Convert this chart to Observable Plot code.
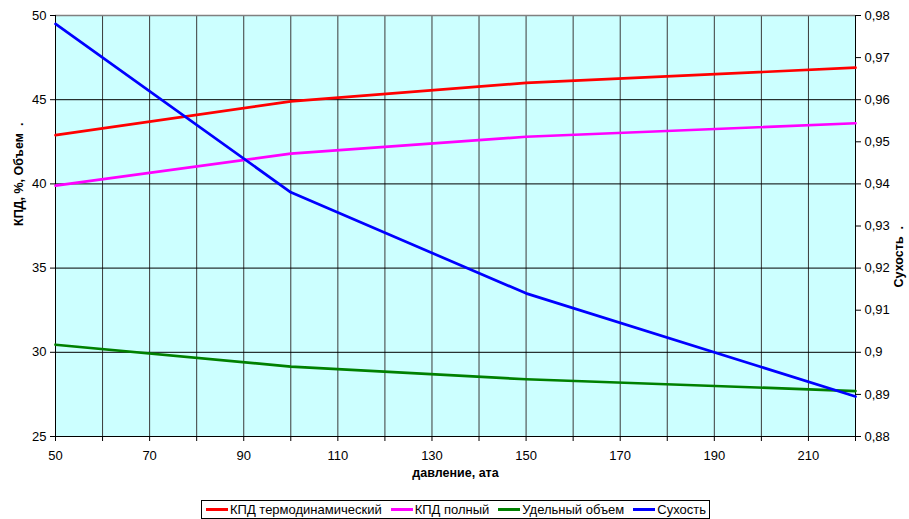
<!DOCTYPE html>
<html><head><meta charset="utf-8">
<script src="https://cdn.jsdelivr.net/npm/d3@7"></script>
<script src="https://cdn.jsdelivr.net/npm/@observablehq/plot@0.6"></script>
<style>
body{margin:0;background:#fff;font-family:"Liberation Sans",Arial,sans-serif;}
#wrap{position:relative;width:909px;height:519px;}
#legend{position:absolute;left:201px;top:500px;height:19px;border:1px solid #000;display:flex;align-items:center;font-size:13px;padding:0 3px 0 2px;white-space:nowrap;box-sizing:border-box;}
#legend span.k{display:inline-block;width:22px;height:2.5px;margin:0 2px 0 2px;vertical-align:middle;}
#legend .it{margin-right:7px;display:flex;align-items:center;}
#legend .it:last-child{margin-right:0;}
</style></head>
<body><div id="wrap"></div>
<script>
const pressure = [50, 100, 150, 220];
const kpdThermo = [42.9, 44.9, 46.0, 46.9];
const kpdFull = [39.9, 41.8, 42.8, 43.6];
const specVolume = [30.45, 29.15, 28.4, 27.7];
const dryness = [0.978, 0.938, 0.914, 0.8895];
const xTicks = [50, 70, 90, 110, 130, 150, 170, 190, 210];
const xGrid = d3.range(50, 221, 10);
const yTicks = [25, 30, 35, 40, 45, 50];
const rightTicks = [0.88, 0.89, 0.9, 0.91, 0.92, 0.93, 0.94, 0.95, 0.96, 0.97, 0.98];
const seriesNames = ["КПД термодинамический", "КПД полный", "Удельный объем", "Сухость"];
const colors = ["#ff0000", "#ff00ff", "#008000", "#0000ff"];

const toLeft = v => 25 + (v - 0.88) * 250;
const fromLeft = y => (y - 25) / 250 + 0.88;

const rows = [];
pressure.forEach((p, i) => {
  rows.push({s: seriesNames[0], x: p, y: kpdThermo[i]});
  rows.push({s: seriesNames[1], x: p, y: kpdFull[i]});
  rows.push({s: seriesNames[2], x: p, y: specVolume[i]});
  rows.push({s: seriesNames[3], x: p, y: toLeft(dryness[i])});
});

const chart = Plot.plot({
  width: 909, height: 495,
  marginLeft: 55, marginRight: 54, marginTop: 15, marginBottom: 59,
  style: {fontFamily: "Liberation Sans, Arial, sans-serif", fontSize: "13px", background: "transparent"},
  x: {domain: [50, 220]},
  y: {domain: [25, 50]},
  color: {domain: seriesNames, range: colors},
  marks: [
    Plot.frame({fill: "#ccffff", stroke: "none"}),
    Plot.ruleX(xGrid, {stroke: "#3a3a3a", strokeWidth: 1}),
    Plot.ruleY(yTicks.filter(d => d > 25 && d < 50), {stroke: "#000", strokeWidth: 1}),
    Plot.ruleY([50], {stroke: "#808080", strokeWidth: 1.5}),
    Plot.ruleX([50], {stroke: "#000", strokeWidth: 1}),
    Plot.ruleX([220], {stroke: "#000", strokeWidth: 1}),
    Plot.ruleY([25], {stroke: "#000", strokeWidth: 1}),
    Plot.line(rows, {x: "x", y: "y", z: "s", stroke: "s", strokeWidth: 2.7}),
    Plot.axisX(xGrid, {tickSize: 5, tickFormat: () => "", label: null}),
    Plot.axisX(xTicks, {tickSize: 0, tickPadding: 14, fontSize: 13, label: null, fill: "#000"}),
    Plot.axisY(yTicks, {anchor: "left", tickSize: 5, tickPadding: 4, label: null, fontSize: 13, fill: "#000"}),
    Plot.axisY(rightTicks.map(toLeft), {anchor: "right", tickSize: 5, tickPadding: 4, label: null, fontSize: 13, fill: "#000",
      tickFormat: y => String(+fromLeft(y).toFixed(2)).replace(".", ",")}),
    Plot.text(["КПД, %, Объем  ."], {frameAnchor: "left", dx: -37, rotate: -90, fontWeight: "bold", fontSize: 12.5, fill: "#000"}),
    Plot.text(["Сухость  ."], {frameAnchor: "right", dx: 43, rotate: -90, fontWeight: "bold", fontSize: 12.5, fill: "#000"}),
    Plot.text(["давление, ата"], {frameAnchor: "bottom", dy: 40, fontWeight: "bold", fontSize: 12.5, fill: "#000"})
  ]
});
const wrap = document.getElementById("wrap");
wrap.appendChild(chart);
const leg = document.createElement("div");
leg.id = "legend";
seriesNames.forEach((n, i) => {
  const it = document.createElement("div");
  it.className = "it";
  it.innerHTML = `<span class="k" style="background:${colors[i]}"></span>${n}`;
  leg.appendChild(it);
});
wrap.appendChild(leg);
</script></body></html>
